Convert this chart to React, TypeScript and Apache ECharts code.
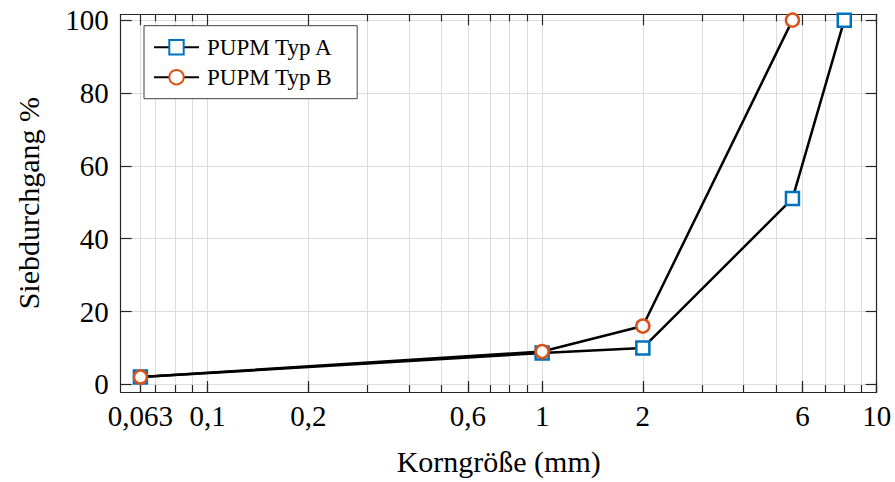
import React, { useEffect, useRef } from 'react';
import * as echarts from 'echarts';

// Sieve sizes (mm) and passing percentages
const majorTicks = [0.063, 0.1, 0.2, 0.6, 1, 2, 6, 10];
const majorLabels = ['0,063', '0,1', '0,2', '0,6', '1', '2', '6', '10'];
const minorTicks = [0.07, 0.08, 0.09, 0.3, 0.4, 0.5, 0.7, 0.8, 0.9, 3, 4, 5, 7, 8, 9];
const yTicks = [0, 20, 40, 60, 80, 100];

const sizesA = [0.063, 1, 2, 5.6, 8];
const passA = [2, 8.6, 10, 51, 100];
const sizesB = [0.063, 1, 2, 5.6];
const passB = [2, 9, 16, 100];

const xMin = 0.055;
const xMax = 10;
const yMin = -2.1;
const yMax = 101.6;

const FONT = '"Liberation Serif", "DejaVu Serif", serif';
const AXIS = '#262626';
const GRID = '#dcdcdc';

const lg = (v: number) => Math.log10(v);

export default function App() {
  const ref = useRef<HTMLDivElement>(null);

  useEffect(() => {
    if (!ref.current) return;
    const chart = echarts.init(ref.current, undefined, { renderer: 'svg' });
    const allTicks = [...majorTicks, ...minorTicks].sort((a, b) => a - b).map(lg);
    const majorLog = majorTicks.map(lg);
    const minorLog = minorTicks.map(lg);

    const baseX = {
      type: 'value' as const,
      min: lg(xMin),
      max: lg(xMax),
      axisLine: { show: false, onZero: false },
      axisLabel: { show: false },
      splitLine: { show: false },
    };

    const option: any = {
      animation: false,
      textStyle: { fontFamily: FONT, color: '#000' },
      grid: { left: 120.7, right: 18.3, top: 14.3, bottom: 90, containLabel: false },
      legend: {
        orient: 'vertical',
        left: 144,
        top: 25.7,
        padding: [10, 24, 10, 9],
        itemWidth: 45,
        itemHeight: 18,
        itemGap: 7,
        backgroundColor: '#fff',
        borderColor: '#404040',
        borderWidth: 1,
        borderRadius: 0,
        textStyle: { fontFamily: FONT, fontSize: 23, color: '#000', padding: [0, 0, 0, 3] },
        data: ['PUPM Typ A', 'PUPM Typ B'],
      },
      xAxis: [
        {
          ...baseX,
          position: 'bottom',
          axisLine: { show: true, onZero: false, lineStyle: { color: AXIS, width: 1.2 } },
          axisTick: { show: true, inside: true, length: 7, customValues: allTicks, lineStyle: { color: AXIS, width: 1.2 } },
          splitLine: { show: true, lineStyle: { color: GRID, width: 1 } },
          axisLabel: {
            show: true,
            customValues: majorLog,
            margin: 9,
            fontFamily: FONT,
            fontSize: 29,
            color: '#000',
            formatter: (v: number) => {
              const i = majorLog.findIndex((t) => Math.abs(t - v) < 1e-6);
              return i >= 0 ? majorLabels[i] : '';
            },
          },
          name: 'Korngröße (mm)',
          nameLocation: 'middle',
          nameGap: 54,
          nameTextStyle: { fontFamily: FONT, fontSize: 30, color: '#000' },
        },
        {
          ...baseX,
          position: 'bottom',
          axisTick: { show: true, inside: true, length: 11, customValues: majorLog, lineStyle: { color: AXIS, width: 1.2 } },
        },
        {
          ...baseX,
          position: 'top',
          axisLine: { show: true, onZero: false, lineStyle: { color: AXIS, width: 1.2 } },
          axisTick: { show: true, inside: true, length: 7, customValues: minorLog, lineStyle: { color: AXIS, width: 1.2 } },
        },
        {
          ...baseX,
          position: 'top',
          axisTick: { show: true, inside: true, length: 11, customValues: majorLog, lineStyle: { color: AXIS, width: 1.2 } },
        },
      ],
      yAxis: [
        {
          type: 'value',
          min: yMin,
          max: yMax,
          position: 'left',
          axisLine: { show: true, onZero: false, lineStyle: { color: AXIS, width: 1.2 } },
          axisTick: { show: true, inside: true, length: 11, customValues: yTicks, lineStyle: { color: AXIS, width: 1.2 } },
          splitLine: { show: true, lineStyle: { color: GRID, width: 1 } },
          axisLabel: { show: true, customValues: yTicks, margin: 12, fontFamily: FONT, fontSize: 29, color: '#000' },
          name: 'Siebdurchgang %',
          nameLocation: 'middle',
          nameGap: 77,
          nameTextStyle: { fontFamily: FONT, fontSize: 30, color: '#000' },
        },
        {
          type: 'value',
          min: yMin,
          max: yMax,
          position: 'right',
          axisLine: { show: true, onZero: false, lineStyle: { color: AXIS, width: 1.2 } },
          axisTick: { show: true, inside: true, length: 11, customValues: yTicks, lineStyle: { color: AXIS, width: 1.2 } },
          splitLine: { show: false },
          axisLabel: { show: false },
        },
      ],
      series: [
        {
          name: 'PUPM Typ A',
          type: 'line',
          xAxisIndex: 0,
          yAxisIndex: 0,
          data: sizesA.map((s, i) => [lg(s), passA[i]]),
          symbol: 'rect',
          symbolSize: 13,
          showAllSymbol: true,
          lineStyle: { color: '#000', width: 2.5 },
          itemStyle: { color: '#fff', borderColor: '#0072BD', borderWidth: 2.5 },
          emphasis: { disabled: true },
        },
        {
          name: 'PUPM Typ B',
          type: 'line',
          xAxisIndex: 0,
          yAxisIndex: 0,
          data: sizesB.map((s, i) => [lg(s), passB[i]]),
          symbol: 'circle',
          symbolSize: 13,
          showAllSymbol: true,
          lineStyle: { color: '#000', width: 2.5 },
          itemStyle: { color: '#fff', borderColor: '#D95319', borderWidth: 2.5 },
          emphasis: { disabled: true },
        },
      ],
    };
    chart.setOption(option);
    return () => chart.dispose();
  }, []);

  return (
    <div
      ref={ref}
      style={{ position: 'absolute', left: 0, top: 0, width: 895, height: 482, background: '#fff' }}
    />
  );
}
